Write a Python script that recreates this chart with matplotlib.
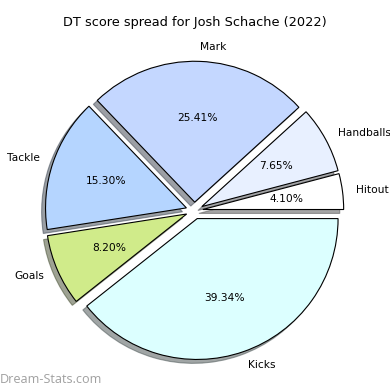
import matplotlib
matplotlib.use("Agg")
import matplotlib.pyplot as plt

labels = ["Hitout", "Handballs", "Mark", "Tackle", "Goals", "Kicks"]
values = [4.10, 7.65, 25.41, 15.30, 8.20, 39.34]
colors = ["#ffffff", "#e8f0ff", "#c4d7ff", "#b5d5ff", "#d0eb8a", "#dcffff"]
explode = [0.06] * len(values)

fig = plt.figure(figsize=(3.9, 3.9), dpi=100)
ax = fig.add_axes([0.047, 0.0085, 0.903, 0.903])
ax.pie(values, labels=labels, colors=colors, explode=explode, autopct="%.2f%%",
       startangle=0, shadow=True,
       wedgeprops={"edgecolor": "black", "linewidth": 0.8},
       textprops={"fontsize": 7.7})
ax.set_title("DT score spread for Josh Schache (2022)", fontsize=9.3)

fig.text(0.0, 0.018, "Dream-Stats.com", color="#a0a0a0", fontsize=9.1,
         family="Open Sans", va="baseline")

fig.savefig("out.png", dpi=100)
